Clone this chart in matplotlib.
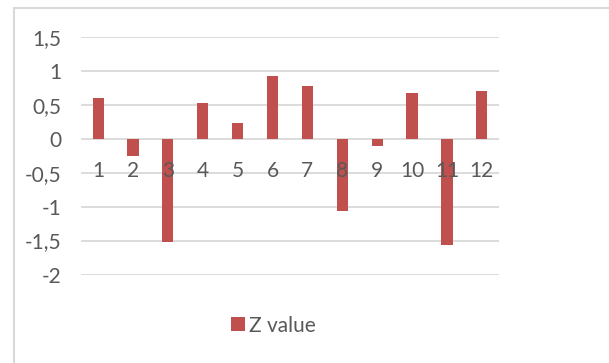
import numpy as np
import matplotlib.pyplot as plt
from matplotlib.patches import Rectangle

# data
categories = ['1', '2', '3', '4', '5', '6', '7', '8', '9', '10', '11', '12']
z_values = [0.60, -0.25, -1.52, 0.52, 0.23, 0.93, 0.78, -1.06, -0.10, 0.68, -1.56, 0.70]
y_ticks = [-2, -1.5, -1, -0.5, 0, 0.5, 1, 1.5]

bar_color = '#C0504D'
grid_color = '#D9D9D9'
text_color = '#595959'

plt.rcParams['font.family'] = ['Lato', 'DejaVu Sans']

fig = plt.figure(figsize=(6.09, 3.63), dpi=100)
ax = fig.add_axes([0.1325, 0.2438, 0.6873, 0.6543])

x = np.arange(len(categories))
ax.bar(x, z_values, width=0.32, color=bar_color, label='Z value', zorder=2)

ax.set_xlim(-0.5, len(categories) - 0.5)
ax.set_ylim(-2, 1.5)
ax.set_yticks(y_ticks)
ax.set_yticklabels([('%g' % v).replace('.', ',') for v in y_ticks])
ax.yaxis.grid(True, color=grid_color, linewidth=1.3)
ax.yaxis.set_zorder(1)
ax.xaxis.set_zorder(4)  # category labels are drawn over the bars

ax.set_xticks(x)
ax.set_xticklabels(categories)
# category labels sit just under the zero line, as Excel does it
ax.spines['bottom'].set_position(('data', 0))
for s in ['top', 'right', 'left', 'bottom']:
    ax.spines[s].set_visible(False)
ax.tick_params(axis='x', length=0, pad=16, labelsize=15, labelcolor=text_color)
ax.tick_params(axis='y', length=0, pad=14, labelsize=15, labelcolor=text_color)

leg = fig.legend(loc='center', bbox_to_anchor=(273.5 / 609, 1 - 325.5 / 363),
                 frameon=False, fontsize=15, handlelength=0.65, handleheight=0.65,
                 handletextpad=0.2)
for t in leg.get_texts():
    t.set_color(text_color)

# light chart-area border (only left and top visible in the crop)
fig.patches.append(Rectangle((14 / 609, -0.1), 1.2, 1 - 7.5 / 363 + 0.1,
                             transform=fig.transFigure, fill=False,
                             edgecolor=grid_color, linewidth=1.5))

fig.savefig('out.png', dpi=100)
